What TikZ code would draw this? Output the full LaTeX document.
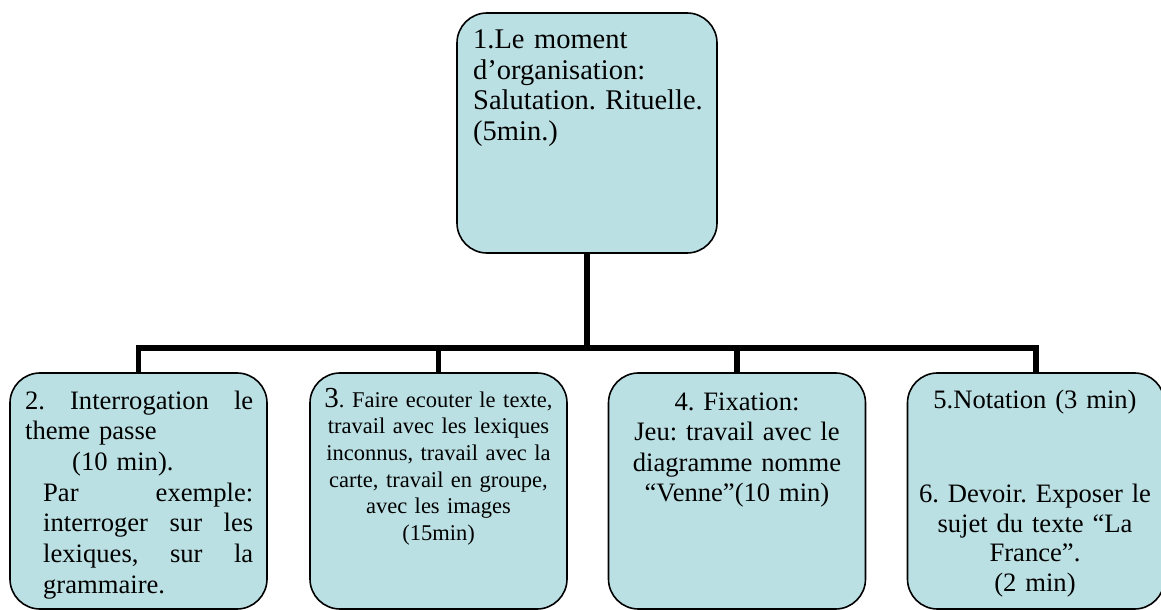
\documentclass[tikz,border=0pt]{standalone}
\usepackage{fontspec}
\setmainfont{Liberation Serif}
\frenchspacing
\definecolor{boxfill}{RGB}{187,224,227}
\tikzset{
  stagebox/.style={draw=black, line width=1.6bp, fill=boxfill, rounded corners=30bp,
    rectangle, inner sep=0pt, minimum width=257bp, minimum height=236bp},
  conn/.style={draw=black, line width=5.5bp},
  txt/.style={inner sep=0pt, anchor=base},
}
\begin{document}
\begin{tikzpicture}[x=1bp,y=-1bp]
\useasboundingbox (0,0) rectangle (1161,610);
% boxes
\node[stagebox, minimum width=260bp, minimum height=240bp] (b1) at (587,133) {};
\node[stagebox] (b2) at (138.5,491) {};
\node[stagebox] (b3) at (438.5,491) {};
\node[stagebox] (b4) at (737,491) {};
\node[stagebox] (b5) at (1036,491) {};
% connectors
\coordinate (j) at (587,348);
\draw[conn] (b1.south) -- (j);
\draw[conn] (b2.north) |- (j) -| (b5.north);
\draw[conn] (b3.north) -- (b3.north |- j);
\draw[conn] (b4.north) -- (b4.north |- j);
% texts
\node[txt, anchor=base west, text width=245bp, align=left,
  font=\fontsize{28.5bp}{30.5bp}\selectfont] (t1) at (473,49)
  {1.Le moment\\ d’organisation:\\ Salutation. Rituelle.\\ (5min.)};
\node[txt, anchor=base west, text width=240bp, align=left,
  font=\fontsize{26.6bp}{30.7bp}\selectfont] (t2) at (25,409)
  {\hbox to 228bp{2.\hfill Interrogation\hfill le}\\
   theme passe\\
   \hspace*{47bp}(10\hspace{9bp}min).\\
   \hspace*{18bp}\hbox to 210bp{Par\hfill exemple:}\\
   \hspace*{18bp}\hbox to 210bp{interroger\hfill sur\hfill les}\\
   \hspace*{18bp}\hbox to 210bp{lexiques,\hfill sur\hfill la}\\
   \hspace*{18bp}grammaire.};
\node[txt, text width=250bp, align=center,
  font=\fontsize{22.5bp}{26.7bp}\selectfont] (t3) at (438.5,407)
  {{\fontsize{29bp}{26.7bp}\selectfont 3}. Faire ecouter le texte,\\ travail avec les lexiques\\ inconnus, travail avec la\\ carte, travail en groupe,\\ avec les images\\ (15min)};
\node[txt, text width=250bp, align=center,
  font=\fontsize{26.6bp}{30.5bp}\selectfont] (t4) at (737,410)
  {4. Fixation:\\ Jeu: travail avec le\\ diagramme nomme\\ “Venne”(10 min)};
\node[txt, text width=250bp, align=center,
  font=\fontsize{26.6bp}{29.5bp}\selectfont] (t5) at (1035,408)
  {5.Notation (3 min)\\[65bp] 6. Devoir. Exposer le\\ sujet du texte “La\\ France”.\\ (2 min)};
\end{tikzpicture}
\end{document}
